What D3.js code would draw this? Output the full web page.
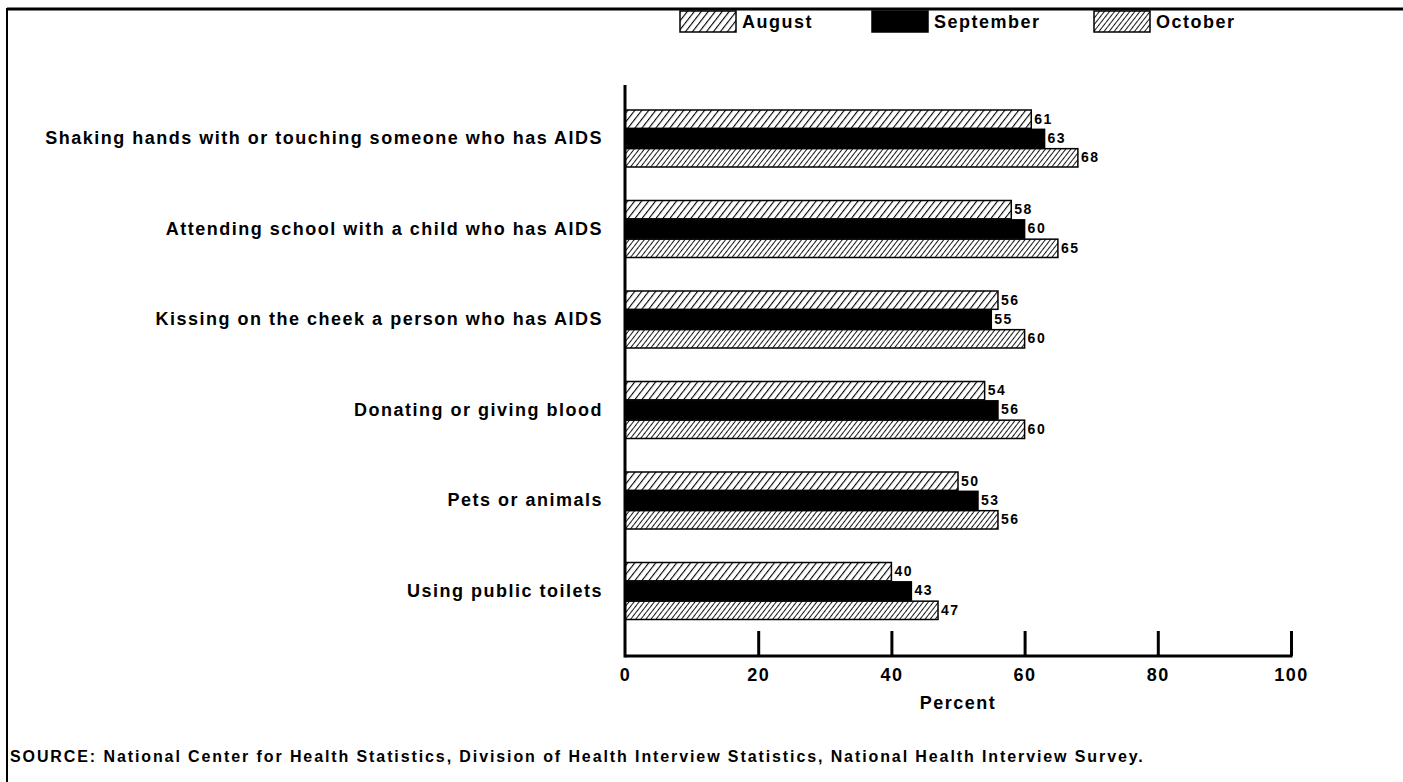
<!DOCTYPE html>
<html>
<head>
<meta charset="utf-8">
<script src="https://cdn.jsdelivr.net/npm/d3@7"></script>
<style>
  body { margin: 0; background: #fff; }
  svg text { font-family: "Liberation Sans", Arial, sans-serif; font-weight: bold; fill: #000; }
</style>
</head>
<body>
<div class="chart"></div>
<script>
const categories = [
  "Shaking hands with or touching someone who has AIDS",
  "Attending school with a child who has AIDS",
  "Kissing on the cheek a person who has AIDS",
  "Donating or giving blood",
  "Pets or animals",
  "Using public toilets"
];
const months = ["August", "September", "October"];
const august = [61, 58, 56, 54, 50, 40];
const september = [63, 60, 55, 56, 53, 43];
const october = [68, 65, 60, 60, 56, 47];
const xTicks = [0, 20, 40, 60, 80, 100];
const sourceNote = "SOURCE: National Center for Health Statistics, Division of Health Interview Statistics, National Health Interview Survey.";

const series = [august, september, october];
const fills = ["url(#hatchWide)", "#000", "url(#hatchDense)"];

const chartWidth = 1403, chartHeight = 782;
const plotLeft = 625, plotRight = 1291;
const plotTop = 100, axisY = 656;

const svg = d3.select(".chart").append("svg")
  .attr("width", chartWidth)
  .attr("height", chartHeight);

const defs = svg.append("defs");
function hatch(id, gap, sw) {
  const p = defs.append("pattern")
    .attr("id", id)
    .attr("patternUnits", "userSpaceOnUse")
    .attr("width", gap).attr("height", gap)
    .attr("patternTransform", "rotate(38)");
  p.append("rect").attr("width", gap).attr("height", gap).attr("fill", "#fff");
  p.append("line")
    .attr("x1", 0).attr("y1", -1).attr("x2", 0).attr("y2", gap + 1)
    .attr("stroke", "#000").attr("stroke-width", sw);
}
hatch("hatchWide", 5.5, 2.2);
hatch("hatchDense", 4, 1.8);

// frame
svg.append("line").attr("x1", 7).attr("y1", 9).attr("x2", chartWidth).attr("y2", 9)
  .attr("stroke", "#000").attr("stroke-width", 3);
svg.append("line").attr("x1", 7).attr("y1", 8).attr("x2", 7).attr("y2", chartHeight)
  .attr("stroke", "#000").attr("stroke-width", 2);

const x = d3.scaleLinear().domain([0, 100]).range([plotLeft, plotRight]);
const y = d3.scaleBand().domain(categories).range([plotTop, axisY - 13]);
const y1 = d3.scaleBand().domain(d3.range(3)).range([0, 58]);

const groups = svg.selectAll("g.cat")
  .data(categories)
  .enter()
  .append("g")
  .attr("class", "cat")
  .attr("transform", d => "translate(0," + (y(d) + 9) + ")");

groups.append("text")
  .attr("x", 603)
  .attr("y", y1(1) + y1.bandwidth() / 2)
  .attr("dy", "0.35em")
  .attr("text-anchor", "end")
  .attr("font-size", 18)
  .attr("letter-spacing", 1.5)
  .text(d => d);

months.forEach((m, j) => {
  groups.append("rect")
    .attr("x", x(0))
    .attr("y", y1(j) + 1)
    .attr("width", (d, i) => x(series[j][i]) - x(0))
    .attr("height", y1.bandwidth() - 1)
    .attr("fill", fills[j])
    .attr("stroke", "#000")
    .attr("stroke-width", 1.5);
  groups.append("text")
    .attr("x", (d, i) => x(series[j][i]) + 3)
    .attr("y", y1(j) + y1.bandwidth() / 2)
    .attr("dy", "0.35em")
    .attr("font-size", 14)
    .attr("letter-spacing", 1.5)
    .text((d, i) => series[j][i]);
});

// axes
svg.append("line")
  .attr("x1", x(0)).attr("y1", 85).attr("x2", x(0)).attr("y2", axisY + 1.5)
  .attr("stroke", "#000").attr("stroke-width", 3);

const xAxis = d3.axisBottom(x).tickValues(xTicks).tickSize(0).tickPadding(12).tickFormat(d3.format("d"));
const gx = svg.append("g")
  .attr("transform", "translate(0," + axisY + ")")
  .call(xAxis);
gx.select(".domain").attr("stroke", "#000").attr("stroke-width", 3).attr("d", "M" + x(0) + ",0H" + (x(100) + 1.5));
gx.selectAll(".tick text")
  .attr("font-size", 18)
  .attr("letter-spacing", 1.5)
  .attr("font-family", "Liberation Sans, Arial, sans-serif")
  .attr("font-weight", "bold");
gx.selectAll(".tick").filter(d => d > 0).append("line")
  .attr("y1", 0).attr("y2", -25)
  .attr("stroke", "#000").attr("stroke-width", 3);

svg.append("text")
  .attr("x", x(50))
  .attr("y", 709)
  .attr("text-anchor", "middle")
  .attr("font-size", 18)
  .attr("letter-spacing", 1.5)
  .text("Percent");

// legend
const legend = svg.selectAll("g.legend")
  .data(months)
  .enter()
  .append("g")
  .attr("class", "legend")
  .attr("transform", (d, i) => "translate(" + [680, 872, 1094][i] + ",11)");
legend.append("rect")
  .attr("width", 56).attr("height", 21)
  .attr("fill", (d, i) => fills[i])
  .attr("stroke", "#000").attr("stroke-width", 1.5);
legend.append("text")
  .attr("x", 62).attr("y", 11).attr("dy", "0.35em")
  .attr("font-size", 18)
  .attr("letter-spacing", 1.5)
  .text(d => d);

svg.append("text")
  .attr("x", 10)
  .attr("y", 762)
  .attr("font-size", 16)
  .attr("letter-spacing", 1.9)
  .text(sourceNote);
</script>
</body>
</html>
